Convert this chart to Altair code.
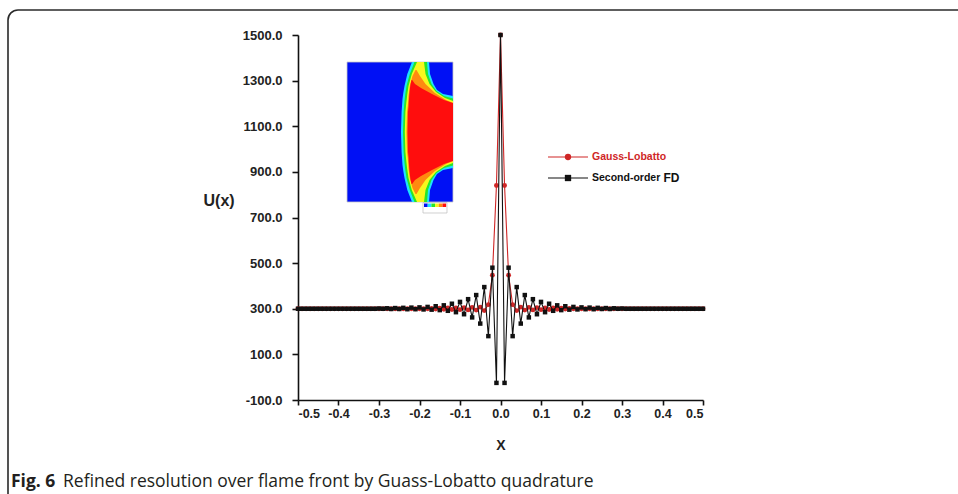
import altair as alt
import pandas as pd

# ---------------------------------------------------------------- data
# Grid positions along X (uniform step of 0.01 across [-0.5, 0.5])
x_grid = [round(-0.5 + 0.01 * i, 2) for i in range(101)]

# Gauss-Lobatto solution U(x)
gl_values = [
    300, 300, 300, 300, 300, 300, 300, 300, 300, 300,
    300, 300, 300, 300, 300, 300, 300, 300, 300, 300,
    300, 300, 300, 300, 300, 300, 300, 300, 300, 300,
    300, 300, 300, 301, 299, 302, 298, 303, 297, 304,
    296, 305, 295, 306, 294, 307, 292, 318, 447, 840,
    1500,
    840, 447, 318, 292, 307, 294, 306, 295, 305, 296,
    304, 297, 303, 298, 302, 299, 301, 300, 300, 300,
    300, 300, 300, 300, 300, 300, 300, 300, 300, 300,
    300, 300, 300, 300, 300, 300, 300, 300, 300, 300,
    300, 300, 300, 300, 300, 300, 300, 300, 300, 300,
]

# Second-order finite-difference solution U(x)
fd_values = [
    300, 300, 300, 300, 300, 300, 300, 300, 300, 300,
    300, 300, 300, 300, 300, 300, 300, 300, 300, 300,
    301, 300, 302, 299, 303, 299, 304, 298, 305, 298,
    306, 297, 308, 296, 311, 294, 315, 291, 322, 285,
    330, 276, 342, 262, 360, 235, 395, 180, 480, -25,
    1500,
    -25, 480, 180, 395, 235, 360, 262, 342, 276, 330,
    285, 322, 291, 315, 294, 311, 296, 308, 297, 306,
    298, 305, 298, 304, 299, 303, 299, 302, 300, 301,
    300, 300, 300, 300, 300, 300, 300, 300, 300, 300,
    300, 300, 300, 300, 300, 300, 300, 300, 300, 300,
]

series_names = ["Gauss-Lobatto", "Second-order FD"]
x_ticks = [-0.5, -0.4, -0.3, -0.2, -0.1, 0.0, 0.1, 0.2, 0.3, 0.4, 0.5]
y_ticks = [-100, 100, 300, 500, 700, 900, 1100, 1300, 1500]

# Inset: temperature contours of the flame front, in image pixels
# (u across, v down from the top edge; lower half mirrors the upper one)
inset_levels = ["cyan", "green", "yellow", "orange", "red"]
inset_colors = ["#1ee1ff", "#28e628", "#f7f71e", "#ff8a10", "#ff0d0d"]
inset_u = {
    "cyan":   [54, 54.6, 55.5, 56.3, 57.5, 60.3, 65, 82, 83, 86.5, 90, 96, 106],
    "green":  [56, 56.6, 57.5, 58.3, 59.5, 62.8, 67.5, 80, 81, 84.5, 89.5, 97, 106],
    "yellow": [57.8, 58.4, 59.3, 60.2, 61.5, 64.8, 70, 77, 78.5, 82.5, 89, 98, 106],
    "orange": [59.5, 60, 60.8, 61, 61.5, 62.8, 65.5, 68.5, 69.5, 73, 78.5, 88, 99, 106],
    "red":    [60.5, 61, 61.6, 61.8, 62.3, 63, 63.6, 64.5, 65.2, 68, 74, 85, 97, 106],
}
inset_top = {
    "cyan":   [70, 50, 37, 31, 24, 12, 0, 0, 12, 22, 28, 32, 34],
    "green":  [70, 50, 39, 32, 24, 12, 0, 0, 12, 22, 29, 34, 36.5],
    "yellow": [70, 50, 41, 33, 24, 12, 0, 0, 12, 22, 30, 36, 39],
    "orange": [70, 50, 44, 41, 34, 24, 14, 8, 8, 14, 22, 31, 38, 41],
    "red":    [70, 50, 44, 40, 33, 26, 22, 18, 18, 22, 26, 32, 38, 41],
}
colorbar_colors = ["#0010f5", "#1ee1ff", "#28e628", "#f7f71e", "#ff8a10", "#ff0d0d"]

# ---------------------------------------------------------------- styling
RED = "#cf2626"
BLACK = "#111111"
FONT = "Liberation Sans"
W, H = 405, 365          # plot area
LEFT, TOP = 298, 35      # plot origin inside the page

curve_df = pd.DataFrame({
    "x": x_grid + x_grid,
    "u": gl_values + fd_values,
    "series": [series_names[0]] * len(x_grid) + [series_names[1]] * len(x_grid),
})

x_enc = alt.X(
    "x:Q",
    scale=alt.Scale(domain=[-0.5, 0.5], nice=False, zero=False),
    axis=alt.Axis(
        values=x_ticks, format=".1f",
        labelExpr="replace(datum.label, '\u2212', '-')",
        title="X", titleFontSize=14, titleFont=FONT, titleFontWeight="bold",
        titleColor="#222", titleY=45, titleBaseline="middle",
        tickSize=5, labelPadding=2, labelFontSize=12.5,
    ),
)
y_enc = alt.Y(
    "u:Q",
    scale=alt.Scale(domain=[-100, 1500], nice=False, zero=False),
    axis=alt.Axis(
        values=y_ticks, format=".1f",
        labelExpr="replace(datum.label, '\u2212', '-')",
        title="U(x)", titleAngle=0, titleFontSize=16, titleFont=FONT,
        titleFontWeight="bold", titleColor="#222",
        titleX=203 - LEFT, titleY=200 - TOP, titleAlign="left", titleBaseline="middle",
        tickSize=6, labelPadding=10, labelFontSize=13,
    ),
)

base = alt.Chart(curve_df)
gl_data = base.transform_filter(alt.datum.series == series_names[0])
fd_data = base.transform_filter(alt.datum.series == series_names[1])

gl_line = gl_data.mark_line(color=RED, strokeWidth=1.1).encode(x=x_enc, y=y_enc)
gl_pts = gl_data.mark_point(shape="circle", filled=True, size=24, color=RED, opacity=1).encode(x="x:Q", y="u:Q")
fd_line = fd_data.mark_line(color=BLACK, strokeWidth=1.1).encode(x="x:Q", y="u:Q")
fd_pts = fd_data.mark_point(shape="square", filled=True, size=20, color=BLACK, opacity=1).encode(x="x:Q", y="u:Q")

# legend (drawn by hand, pixel offsets inside the plot area)
one = pd.DataFrame({"k": [0]})
legend_y = [157 - TOP, 178 - TOP]
leg_x0, leg_x1, leg_xm, leg_tx = 548 - LEFT, 588 - LEFT, 568 - LEFT, 592 - LEFT
legend_layers = []
for yy, col, shape in [(legend_y[0], RED, "circle"), (legend_y[1], BLACK, "square")]:
    legend_layers.append(alt.Chart(one).mark_rule(color=col, strokeWidth=1.2).encode(
        x=alt.value(leg_x0), x2=alt.value(leg_x1), y=alt.value(yy)))
    legend_layers.append(alt.Chart(one).mark_point(shape=shape, filled=True, size=40, color=col, opacity=1).encode(
        x=alt.value(leg_xm), y=alt.value(yy)))
legend_layers.append(alt.Chart(one).mark_text(
    text=series_names[0], color=RED, font=FONT, fontWeight="bold", fontSize=10.5,
    align="left", baseline="middle").encode(x=alt.value(leg_tx), y=alt.value(legend_y[0])))
legend_layers.append(alt.Chart(one).mark_text(
    text="Second-order", color=BLACK, font=FONT, fontWeight="bold", fontSize=10.5,
    align="left", baseline="middle").encode(x=alt.value(leg_tx), y=alt.value(legend_y[1])))
legend_layers.append(alt.Chart(one).mark_text(
    text="FD", color=BLACK, font=FONT, fontWeight="bold", fontSize=12,
    align="left", baseline="middle").encode(x=alt.value(leg_tx + 71.5), y=alt.value(legend_y[1])))

# figure frame and caption
frame = alt.Chart(one).mark_rect(
    filled=False, stroke="#2a2a2a", strokeWidth=1.6, cornerRadius=10
).encode(x=alt.value(8 - LEFT), x2=alt.value(990 - LEFT),
         y=alt.value(10 - TOP), y2=alt.value(530 - TOP))
cap_y = 482 - TOP
caption_bold = alt.Chart(one).mark_text(
    text="Fig. 6", font="Open Sans", fontWeight="bold", fontSize=17.5, color="#231f20",
    align="left", baseline="middle").encode(x=alt.value(11 - LEFT), y=alt.value(cap_y))
caption_rest = alt.Chart(one).mark_text(
    text="Refined resolution over flame front by Guass-Lobatto quadrature",
    font="Open Sans", fontSize=17.5, color="#231f20",
    align="left", baseline="middle").encode(x=alt.value(63 - LEFT), y=alt.value(cap_y))

main = alt.layer(gl_line, gl_pts, fd_line, fd_pts, *legend_layers, frame, caption_bold, caption_rest)

# ---------------------------------------------------------------- inset
# one inset unit equals one pixel; the image box spans u in [0,106], v in [0,140]
IX0, IY0 = 347 - LEFT, 62 - TOP
ix = alt.Scale(domain=[-IX0, W - IX0], nice=False, zero=False)
iy = alt.Scale(domain=[-IY0, H - IY0], nice=False, zero=False, reverse=True)

box = pd.DataFrame({"u0": [0], "u1": [106], "v0": [0], "v1": [140]})
inset_bg = alt.Chart(box).mark_rect(color="#0010f5", stroke="#c8c8c8", strokeWidth=0.8).encode(
    x=alt.X("u0:Q", scale=ix, axis=None), x2="u1:Q",
    y=alt.Y("v0:Q", scale=iy, axis=None), y2="v1:Q")

inset_layers = [inset_bg]
for name, col in zip(inset_levels, inset_colors):
    df = pd.DataFrame({
        "u": inset_u[name],
        "top": inset_top[name],
        "bottom": [140 - t for t in inset_top[name]],
    })
    inset_layers.append(alt.Chart(df).mark_area(color=col, opacity=1).encode(
        x=alt.X("u:Q", scale=ix, axis=None),
        y=alt.Y("top:Q", scale=iy, axis=None), y2="bottom:Q"))

# small colour bar under the image
cb = pd.DataFrame({
    "a": [77 + 3.7 * i for i in range(len(colorbar_colors))],
    "b": [77 + 3.7 * (i + 1) for i in range(len(colorbar_colors))],
    "c": colorbar_colors,
})
cbar = alt.Chart(cb).mark_rect().encode(
    x=alt.X("a:Q", scale=ix, axis=None), x2="b:Q",
    y=alt.value(IY0 + 141.5), y2=alt.value(IY0 + 145),
    color=alt.Color("c:N", scale=None, legend=None))
cbox = alt.Chart(one).mark_rect(filled=False, stroke="#bbbbbb", strokeWidth=0.7).encode(
    x=alt.value(IX0 + 76), x2=alt.value(IX0 + 100),
    y=alt.value(IY0 + 140.5), y2=alt.value(IY0 + 151))
inset_layers += [cbar, cbox]

inset = alt.layer(*inset_layers)

chart = alt.layer(main, inset).resolve_scale(
    x="independent", y="independent"
).properties(
    width=W, height=H,
    padding={"left": LEFT, "top": TOP, "right": 958 - LEFT - W, "bottom": 494 - TOP - H},
    autosize=alt.AutoSizeParams(type="none"),
    background="white",
).configure_view(stroke=None).configure_axis(
    domainColor="#111", domainWidth=1.6, tickColor="#111", tickWidth=1.6,
    labelFont=FONT, labelFontWeight="bold", labelColor="#222",
    grid=False,
)

chart.save("out.html", embed_options={"renderer": "svg", "actions": False})
